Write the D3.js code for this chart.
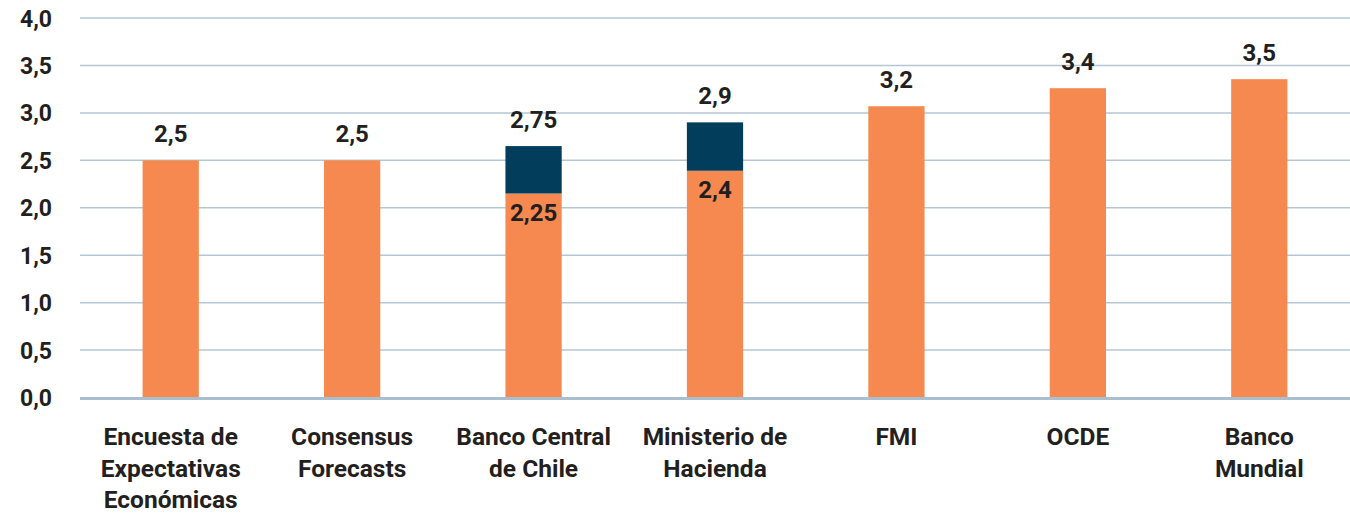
<!DOCTYPE html>
<html>
<head>
<meta charset="utf-8">
<script src="https://cdn.jsdelivr.net/npm/d3@7"></script>
<style>
  body { margin: 0; background: #ffffff; }
  text { font-family: Roboto, "DejaVu Sans", sans-serif; font-weight: 700; fill: #231f20; }
</style>
</head>
<body>
<div id="chart"></div>
<script>
// categories (multi-line labels)
var categories = [
  ["Encuesta de", "Expectativas", "Económicas"],
  ["Consensus", "Forecasts"],
  ["Banco Central", "de Chile"],
  ["Ministerio de", "Hacienda"],
  ["FMI"],
  ["OCDE"],
  ["Banco", "Mundial"]
];
// orange bar height, as drawn
var baseValues = [2.5, 2.5, 2.15, 2.39, 3.07, 3.26, 3.355];
// navy range stacked on top (0 where there is none)
var rangeValues = [0, 0, 0.5, 0.51, 0, 0, 0];
// labels printed on the chart
var topLabels = ["2,5", "2,5", "2,75", "2,9", "3,2", "3,4", "3,5"];
var innerLabels = ["", "", "2,25", "2,4", "", "", ""];
var yTicks = [0, 0.5, 1, 1.5, 2, 2.5, 3, 3.5, 4];

var width = 1350, height = 513;
var margin = {top: 18, right: 0, bottom: 115, left: 80};

var svg = d3.select("#chart")
  .append("svg")
  .attr("width", width)
  .attr("height", height);

var x = d3.scaleBand()
  .domain(d3.range(categories.length))
  .range([margin.left, width - margin.right])
  .paddingInner(0.69)
  .paddingOuter(0.345);

var y = d3.scaleLinear()
  .domain([0, 4])
  .range([height - margin.bottom - 0.5, margin.top]);

// gridlines
svg.append("g")
  .selectAll("line")
  .data(yTicks.filter(function(d){ return d > 0; }))
  .enter().append("line")
    .attr("x1", margin.left)
    .attr("x2", width)
    .attr("y1", function(d){ return y(d); })
    .attr("y2", function(d){ return y(d); })
    .attr("stroke", "#b3c7d6")
    .attr("stroke-width", 1.5);

// y axis labels
var yAxis = d3.axisLeft(y)
  .tickValues(yTicks)
  .tickSize(0)
  .tickPadding(0)
  .tickFormat(function(d){ return d3.format(".1f")(d).replace(".", ","); });

svg.append("g")
  .attr("transform", "translate(52,0)")
  .call(yAxis)
  .call(function(g){ g.select(".domain").remove(); })
  .selectAll("text")
    .attr("font-size", 23)
    .attr("font-family", null)
    .attr("dy", "0.35em");

// bars
var bars = svg.append("g");
bars.selectAll("rect.base")
  .data(baseValues)
  .enter().append("rect")
    .attr("class", "base")
    .attr("x", function(d, i){ return x(i); })
    .attr("width", x.bandwidth())
    .attr("y", function(d){ return y(d); })
    .attr("height", function(d){ return y(0) - y(d); })
    .attr("fill", "#f5894f");

bars.selectAll("rect.range")
  .data(rangeValues)
  .enter().append("rect")
    .attr("class", "range")
    .attr("x", function(d, i){ return x(i); })
    .attr("width", x.bandwidth())
    .attr("y", function(d, i){ return y(baseValues[i] + d); })
    .attr("height", function(d, i){ return y(baseValues[i]) - y(baseValues[i] + d); })
    .attr("fill", "#023d5b");

// baseline
svg.append("line")
  .attr("x1", margin.left)
  .attr("x2", width)
  .attr("y1", y(0) + 1)
  .attr("y2", y(0) + 1)
  .attr("stroke", "#a9bfcf")
  .attr("stroke-width", 3);

// value labels above bars
svg.append("g")
  .selectAll("text")
  .data(topLabels)
  .enter().append("text")
    .attr("x", function(d, i){ return x(i) + x.bandwidth() / 2; })
    .attr("y", function(d, i){ return y(baseValues[i] + rangeValues[i]) - 18; })
    .attr("text-anchor", "middle")
    .attr("font-size", 24)
    .text(function(d){ return d; });

// labels inside the orange part
svg.append("g")
  .selectAll("text")
  .data(innerLabels)
  .enter().append("text")
    .attr("x", function(d, i){ return x(i) + x.bandwidth() / 2; })
    .attr("y", function(d, i){ return y(baseValues[i]) + 27; })
    .attr("text-anchor", "middle")
    .attr("font-size", 24)
    .text(function(d){ return d; });

// category labels
var cat = svg.append("g")
  .selectAll("text")
  .data(categories)
  .enter().append("text")
    .attr("x", function(d, i){ return x(i) + x.bandwidth() / 2; })
    .attr("y", 445)
    .attr("text-anchor", "middle")
    .attr("font-size", 24.5);

cat.selectAll("tspan")
  .data(function(d){ return d; })
  .enter().append("tspan")
    .attr("x", function(){ return d3.select(this.parentNode).attr("x"); })
    .attr("dy", function(d, i){ return i === 0 ? 0 : 31.5; })
    .text(function(d){ return d; });
</script>
</body>
</html>
